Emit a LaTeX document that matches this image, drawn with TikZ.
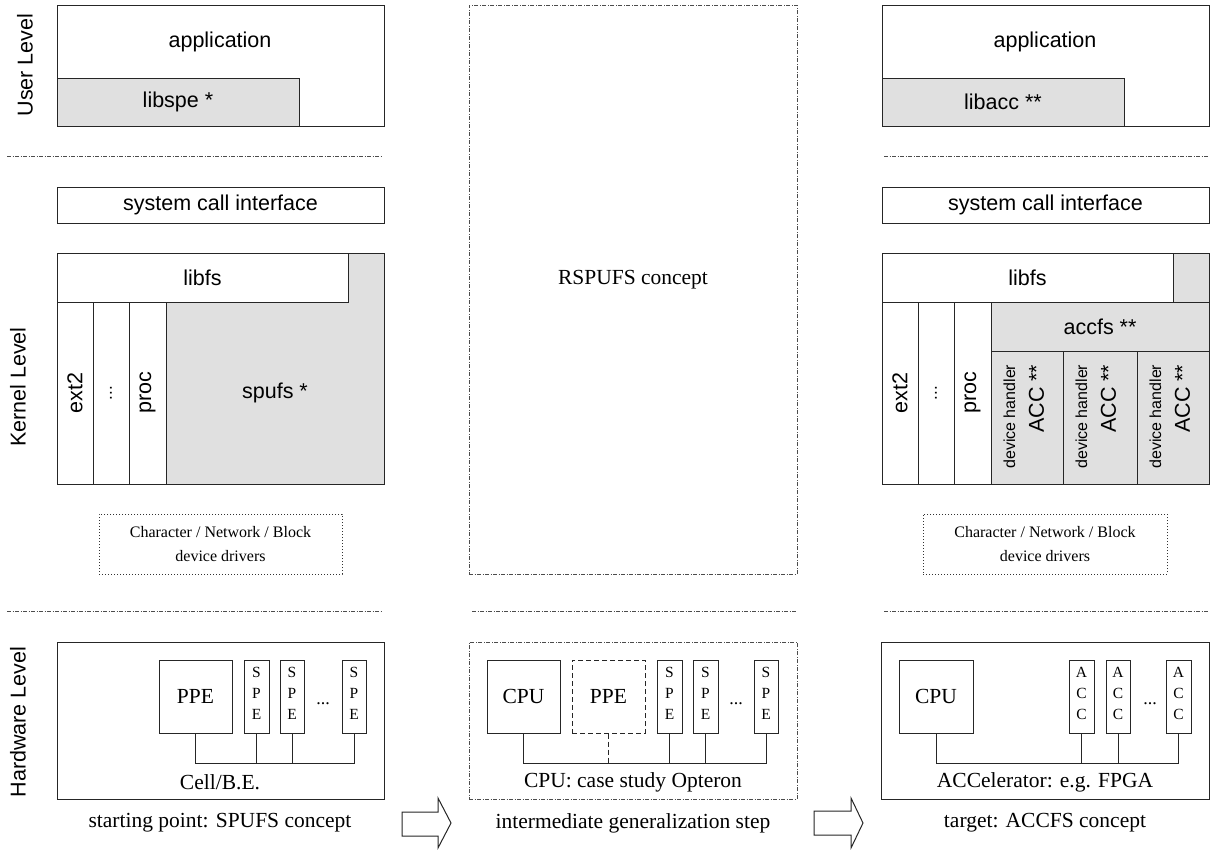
\documentclass[tikz,border=0pt]{standalone}
\usepackage{fontspec}
\setmainfont{Liberation Serif}
\setsansfont{Liberation Sans}
\usetikzlibrary{fit}
\tikzset{
  blk/.style={draw=black!85, line width=1pt, inner sep=0pt},
  shaded/.style={blk, fill=black!12},
  sf/.style={font=\sffamily\fontsize{21.5}{24}\selectfont, inner sep=0pt},
  sfsmall/.style={font=\sffamily\fontsize{16}{19}\selectfont, inner sep=0pt},
  rm/.style={font=\fontsize{21.5}{24}\selectfont, inner sep=0pt},
  sepline/.style={draw=black!70, line width=0.9pt, dash pattern=on 4pt off 1.5pt on 1pt off 1.5pt},
  frame/.style={sepline, inner sep=0pt},
  drv/.style={draw=black!80, line width=0.9pt, dash pattern=on 1pt off 2pt, inner sep=0pt},
  drvtext/.style={align=center, font=\fontsize{16}{24}\selectfont, inner sep=0pt},
  hw/.style={draw=black!85, line width=1pt, inner sep=0pt},
  ghost/.style={hw, dash pattern=on 5pt off 3pt},
  unittext/.style={align=center, font=\fontsize{15.5}{21}\selectfont, inner sep=0pt},
  bus/.style={draw=black!85, line width=1pt},
  bigarrow/.style={draw=black!85, line width=1pt, fill=white},
}
\begin{document}
\begin{tikzpicture}[x=1pt, y=-1pt]
\useasboundingbox (0,0) rectangle (1210,849);

% ---------------- level labels ----------------
\node[sf, rotate=90] (lvU) at (25,65) {User Level};
\node[sf, rotate=90] (lvK) at (18,387) {Kernel Level};
\node[sf, rotate=90] (lvH) at (18,722) {Hardware Level};

% ---------------- separators ----------------
\coordinate (sA1) at (7,156);   \coordinate (sA2) at (383,156);
\coordinate (sB1) at (884,156); \coordinate (sB2) at (1208,156);
\coordinate (sC1) at (7,611);   \coordinate (sC2) at (383,611);
\coordinate (sD1) at (472,611); \coordinate (sD2) at (797,611);
\coordinate (sE1) at (884,611); \coordinate (sE2) at (1208,611);
\draw[sepline] (sA1) -- (sA2);
\draw[sepline] (sB1) -- (sB2);
\draw[sepline] (sC1) -- (sC2);
\draw[sepline] (sD1) -- (sD2);
\draw[sepline] (sE1) -- (sE2);

% ================= left column: SPUFS =================
\node[blk, fit={(57,5)(384,126)}] (Lapp) {};
\node[sf] (LappT) at (220,42) {application};
\node[shaded, fit={(57,78)(299,126)}] (Llib) {};
\node[sf] (LlibT) at (Llib.center) {libspe *};
\node[blk, fit={(57,187)(384,223)}] (Lsci) {};
\node[sf] (LsciT) at (Lsci.center) {system call interface};

\node[shaded, fit={(57,253)(384,484)}] (Lker) {};
\node[blk, fill=white, fit={(57,253)(348,302)}] (Lfs) {};
\node[sf] (LfsT) at (Lfs.center) {libfs};
\node[blk, fill=white, fit={(57,302)(93,484)}] (Lext) {};
\node[blk, fill=white, fit={(93,302)(129,484)}] (Ldots) {};
\node[blk, fill=white, fit={(129,302)(166,484)}] (Lproc) {};
\node[sf, rotate=90] (LextT) at (Lext.center) {ext2};
\node[sf, rotate=90, font=\sffamily\fontsize{17}{17}\selectfont] (LdotsT) at (Ldots.center) {...};
\node[sf, rotate=90] (LprocT) at (Lproc.center) {proc};
\node[sf] (Lspu) at (275,393) {spufs *};

\node[drv, fit={(99,514)(342,574)}] (Ldrv) {};
\node[drvtext] (LdrvT) at (Ldrv.center) {Character / Network / Block\\device drivers};

\node[hw, fit={(57,642)(384,799)}] (Lhw) {};
\node[hw, fit={(159,660)(232,733)}] (Lppe) {};
\node[rm] (LppeT) at (Lppe.center) {PPE};
\node[hw, fit={(244,660)(269,733)}] (Lspe1) {};
\node[hw, fit={(280,660)(304,733)}] (Lspe2) {};
\node[hw, fit={(342,660)(366,733)}] (Lspe3) {};
\foreach \n in {Lspe1,Lspe2,Lspe3}
  \node[unittext] (\n T) at ([yshift=3pt]\n.center) {S\\P\\E};
\node[rm, font=\fontsize{18}{20}\selectfont] (Ldots2) at (323,704) {...};
\coordinate (Lbus) at (0,763);
\draw[bus] (Lppe.south) -- (Lppe.south |- Lbus) -| (Lspe3.south);
\draw[bus] (Lspe1.south) -- (Lspe1.south |- Lbus);
\draw[bus] (Lspe2.south) -- (Lspe2.south |- Lbus);
\node[rm] (Lcell) at (220,782) {Cell/B.E.};
\node[rm] (Lcap) at (220,823) {starting point: SPUFS concept};

% ================= middle column: RSPUFS =================
\node[frame, fit={(469,5)(797,574)}] (Mbox) {};
\node[rm] (MboxT) at (633,280) {RSPUFS concept};

\node[frame, fit={(469,642)(797,799)}] (Mhw) {};
\node[hw, fit={(487,660)(560,733)}] (Mcpu) {};
\node[rm] (McpuT) at (Mcpu.center) {CPU};
\node[ghost, fit={(572,660)(645,733)}] (Mppe) {};
\node[rm] (MppeT) at (Mppe.center) {PPE};
\node[hw, fit={(657,660)(682,733)}] (Mspe1) {};
\node[hw, fit={(693,660)(718,733)}] (Mspe2) {};
\node[hw, fit={(754,660)(778,733)}] (Mspe3) {};
\foreach \n in {Mspe1,Mspe2,Mspe3}
  \node[unittext] (\n T) at ([yshift=3pt]\n.center) {S\\P\\E};
\node[rm, font=\fontsize{18}{20}\selectfont] (Mdots) at (736,704) {...};
\coordinate (Mbus) at (0,763);
\draw[bus] (Mcpu.south) -- (Mcpu.south |- Mbus) -| (Mspe3.south);
\draw[bus] (Mspe1.south) -- (Mspe1.south |- Mbus);
\draw[bus] (Mspe2.south) -- (Mspe2.south |- Mbus);
\draw[bus, dash pattern=on 5pt off 3pt] (Mppe.south) -- (Mppe.south |- Mbus);
\node[rm] (Mcpt) at (633,782) {CPU: case study Opteron};
\node[rm] (Mcap) at (633,823) {intermediate generalization step};

% ================= right column: ACCFS =================
\node[blk, fit={(882,5)(1209,126)}] (Rapp) {};
\node[sf] (RappT) at (1045,42) {application};
\node[shaded, fit={(882,78)(1124,126)}] (Rlib) {};
\node[sf] (RlibT) at (Rlib.center) {libacc **};
\node[blk, fit={(882,187)(1209,223)}] (Rsci) {};
\node[sf] (RsciT) at (Rsci.center) {system call interface};

\node[shaded, fit={(882,253)(1209,484)}] (Rker) {};
\node[blk, fill=white, fit={(882,253)(1173,302)}] (Rfs) {};
\node[sf] (RfsT) at (Rfs.center) {libfs};
\node[blk, fill=white, fit={(882,302)(918,484)}] (Rext) {};
\node[blk, fill=white, fit={(918,302)(954,484)}] (Rdots) {};
\node[blk, fill=white, fit={(954,302)(991,484)}] (Rproc) {};
\node[sf, rotate=90] (RextT) at (Rext.center) {ext2};
\node[sf, rotate=90, font=\sffamily\fontsize{17}{17}\selectfont] (RdotsT) at (Rdots.center) {...};
\node[sf, rotate=90] (RprocT) at (Rproc.center) {proc};
\node[shaded, fit={(991,302)(1209,351)}] (Racc) {};
\node[sf] (RaccT) at (Racc.center) {accfs **};
\node[shaded, fit={(991,351)(1063,484)}] (Rdh1) {};
\node[shaded, fit={(1063,351)(1137,484)}] (Rdh2) {};
\node[shaded, fit={(1137,351)(1209,484)}] (Rdh3) {};
\foreach \n in {Rdh1,Rdh2,Rdh3} {
  \node[sfsmall, rotate=90, anchor=east] (\n a) at ([xshift=19pt,yshift=-14pt]\n.north west) {device handler};
  \node[sf, rotate=90, anchor=east] (\n b) at ([xshift=46pt,yshift=-14pt]\n.north west) {ACC **};
}

\node[drv, fit={(923,514)(1167,574)}] (Rdrv) {};
\node[drvtext] (RdrvT) at (Rdrv.center) {Character / Network / Block\\device drivers};

\node[hw, fit={(881,642)(1209,799)}] (Rhw) {};
\node[hw, fit={(899,660)(973,733)}] (Rcpu) {};
\node[rm] (RcpuT) at (Rcpu.center) {CPU};
\node[hw, fit={(1069,660)(1094,733)}] (Racc1) {};
\node[hw, fit={(1106,660)(1130,733)}] (Racc2) {};
\node[hw, fit={(1166,660)(1191,733)}] (Racc3) {};
\foreach \n in {Racc1,Racc2,Racc3}
  \node[unittext] (\n T) at ([yshift=3pt]\n.center) {A\\C\\C};
\node[rm, font=\fontsize{18}{20}\selectfont] (Rdots2) at (1150,704) {...};
\coordinate (Rbus) at (0,763);
\draw[bus] (Rcpu.south) -- (Rcpu.south |- Rbus) -| (Racc3.south);
\draw[bus] (Racc1.south) -- (Racc1.south |- Rbus);
\draw[bus] (Racc2.south) -- (Racc2.south |- Rbus);
\node[rm] (Racct) at (1045,782) {ACCelerator: e.g. FPGA};
\node[rm] (Rcap) at (1045,823) {target: ACCFS concept};

% ---------------- transition arrows ----------------
\draw[bigarrow] (402,812) -- (438,812) -- (438,798) -- (451,823) -- (438,848) -- (438,836) -- (402,836) -- cycle;
\draw[bigarrow] (814,811) -- (851,811) -- (851,798) -- (863,823) -- (851,848) -- (851,835) -- (814,835) -- cycle;
\end{tikzpicture}
\end{document}
